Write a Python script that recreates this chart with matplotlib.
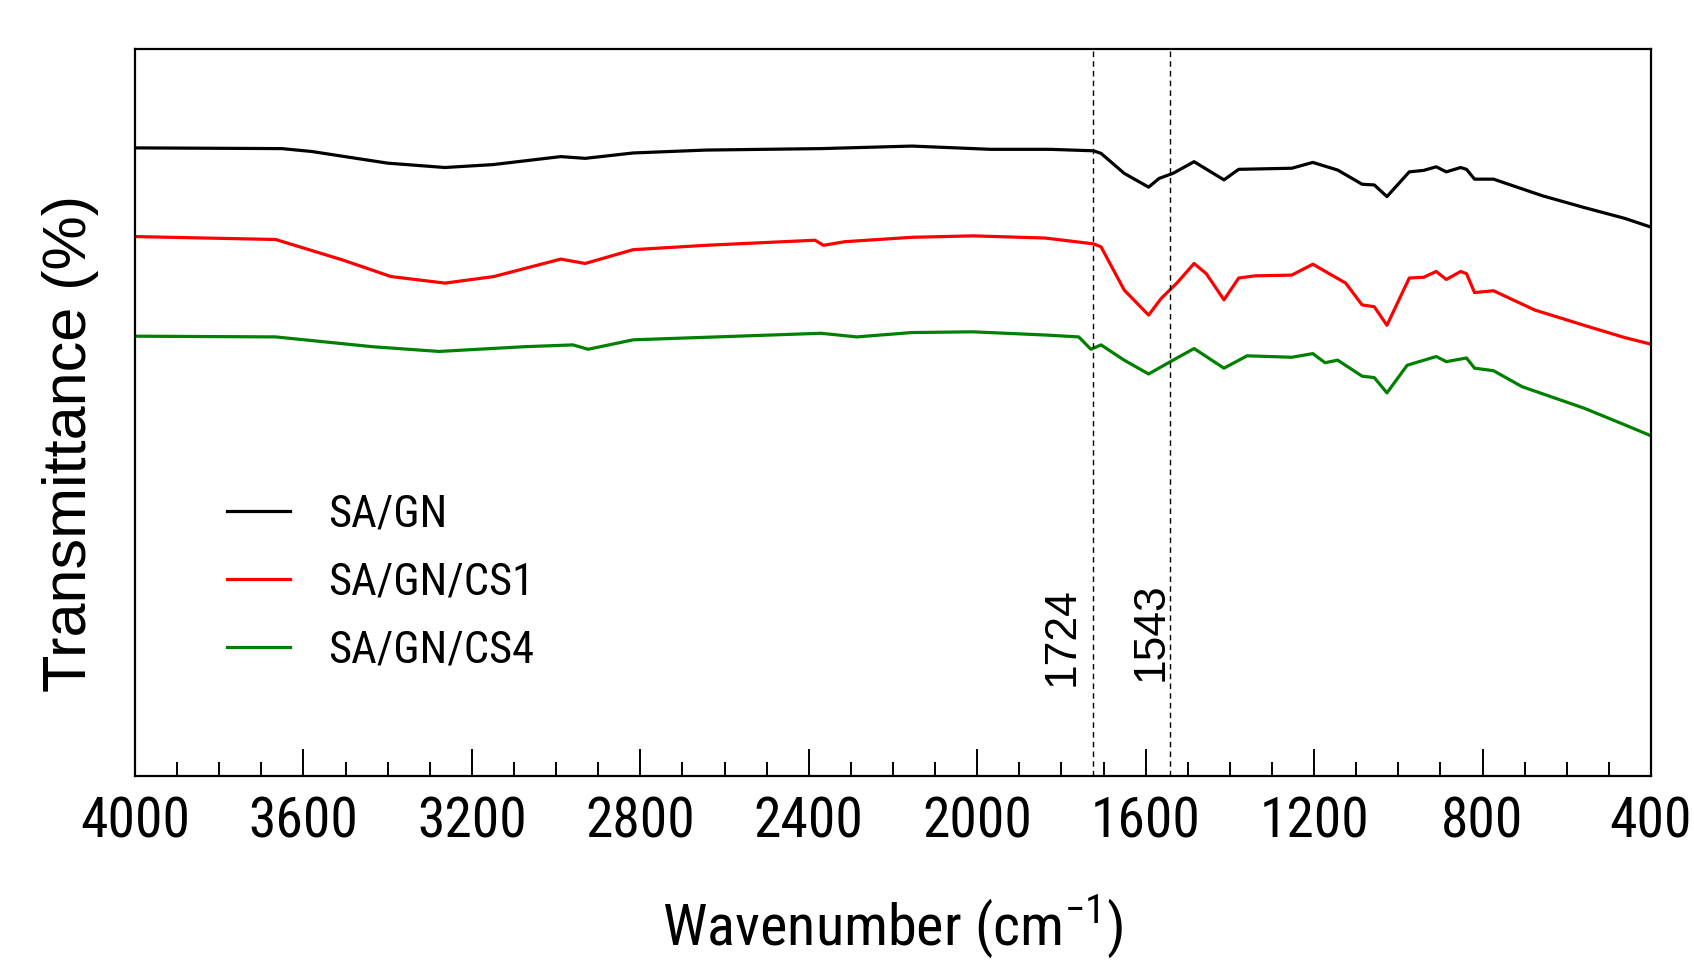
import numpy as np
import matplotlib
matplotlib.use("Agg")
import matplotlib.pyplot as plt
from matplotlib.ticker import MultipleLocator

# FTIR spectra, transmittance in arbitrary offset units
wn_sa_gn = [4000, 3651, 3580, 3479, 3400, 3264, 3150, 2989, 2931, 2817, 2644, 2371,
            2155, 1967, 1827, 1724, 1706, 1651, 1593, 1568, 1535, 1485, 1414, 1379,
            1253, 1203, 1144, 1086, 1057, 1027, 974, 940, 910, 886, 852, 838, 819,
            774, 657, 559, 462, 400]
t_sa_gn = [86.4, 86.3, 85.9, 85.0, 84.3, 83.7, 84.1, 85.2, 84.96, 85.7, 86.1, 86.3,
           86.65, 86.2, 86.2, 86.0, 85.65, 82.9, 81.0, 82.2, 82.9, 84.5, 82.0, 83.45,
           83.6, 84.4, 83.35, 81.4, 81.3, 79.7, 83.1, 83.3, 83.8, 83.1, 83.7, 83.45, 82.1,
           82.1, 79.8, 78.2, 76.7, 75.5]

wn_cs1 = [4000, 3666, 3508, 3392, 3264, 3148, 2989, 2931, 2817, 2644, 2385, 2365,
          2314, 2155, 2010, 1839, 1724, 1706, 1651, 1593, 1563, 1526, 1485, 1456,
          1414, 1379, 1340, 1253, 1203, 1125, 1086, 1057, 1027, 974, 940, 910, 886,
          852, 838, 819, 774, 676, 559, 462, 400]
t_cs1 = [74.2, 73.8, 71.0, 68.7, 67.8, 68.7, 71.1, 70.5, 72.4, 73.0, 73.7, 73.0,
         73.5, 74.1, 74.3, 74.0, 73.2, 72.8, 66.85, 63.4, 65.7, 67.8, 70.5, 69.1,
         65.5, 68.5, 68.8, 68.9, 70.4, 67.8, 64.8, 64.55, 62.0, 68.5, 68.6, 69.4, 68.3,
         69.4, 69.1, 66.5, 66.75, 64.1, 62.0, 60.3, 59.4]

wn_cs4 = [4000, 3666, 3436, 3278, 3076, 2960, 2924, 2817, 2371, 2286, 2155, 2010,
          1839, 1759, 1730, 1706, 1651, 1593, 1535, 1485, 1414, 1359, 1253, 1203,
          1174, 1144, 1086, 1057, 1027, 979, 910, 886, 838, 819, 774, 706, 559, 462, 400]
t_cs4 = [60.5, 60.4, 59.05, 58.4, 59.05, 59.3, 58.7, 60.0, 60.9, 60.4, 61.0, 61.1,
         60.66, 60.4, 58.7, 59.3, 57.2, 55.3, 57.2, 58.8, 56.1, 57.8, 57.6, 58.1,
         56.85, 57.2, 55.0, 54.8, 52.7, 56.5, 57.7, 57.0, 57.5, 56.1, 55.75, 53.55,
         50.6, 48.3, 46.8]

series = [("SA/GN", wn_sa_gn, t_sa_gn, "black"),
          ("SA/GN/CS1", wn_cs1, t_cs1, "red"),
          ("SA/GN/CS4", wn_cs4, t_cs4, "green")]

marks = [1724, 1543]

narrow = ["Roboto Condensed", "Liberation Sans Narrow", "Liberation Sans", "DejaVu Sans"]
plain = ["Liberation Sans", "DejaVu Sans"]

plt.rcParams["mathtext.fontset"] = "custom"
plt.rcParams["mathtext.rm"] = "Roboto Condensed"

fig = plt.figure(figsize=(16.94, 9.61), dpi=100)
ax = fig.add_axes([0.0797, 0.1925, 0.8949, 0.7565])

for name, x, y, c in series:
    ax.plot(x, y, color=c, lw=2.3, label=name)

for m in marks:
    ax.axvline(m, color="black", lw=1.0, ls=(0, (4, 3)))
ax.text(1799, 12.4, "1724", rotation=90, ha="center", va="bottom",
        fontsize=32, family=plain)
ax.text(1588, 13.1, "1543", rotation=90, ha="center", va="bottom",
        fontsize=32, family=plain)

ax.set_xlim(4000, 400)
ax.set_ylim(0, 100)
ax.xaxis.set_major_locator(MultipleLocator(400))
ax.xaxis.set_minor_locator(MultipleLocator(100))
ax.tick_params(axis="x", which="major", direction="in", length=19.5, width=1.4,
               pad=14, labelsize=40)
ax.tick_params(axis="x", which="minor", direction="in", length=10, width=1.4)
ax.tick_params(axis="y", left=False, labelleft=False)
for lab in ax.get_xticklabels():
    lab.set_family(narrow)
for s in ax.spines.values():
    s.set_linewidth(1.6)

ax.set_xlabel("Wavenumber (cm$^{\\mathrm{-1}}$)", fontsize=42, family=narrow,
              labelpad=32)
ax.set_ylabel("Transmittance (%)", fontsize=44, family=plain)
ax.yaxis.set_label_coords(-0.0235, 0.458)

ax.legend(loc="upper left", bbox_to_anchor=(0.0607, 0.388), frameon=False,
          borderpad=0, borderaxespad=0, handlelength=1.42, handletextpad=0.85,
          labelspacing=0.58, prop={"family": narrow, "size": 32})

fig.savefig("out.png", dpi=100)
